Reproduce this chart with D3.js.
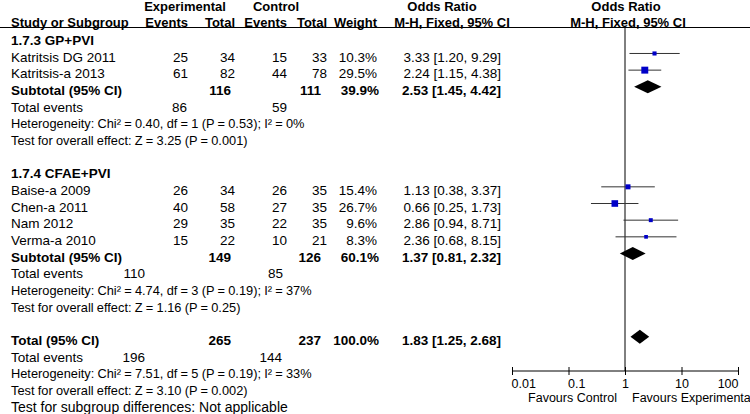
<!DOCTYPE html>
<html>
<head>
<meta charset="utf-8">
<script src="https://cdn.jsdelivr.net/npm/d3@7"></script>
<style>
  body { margin: 0; background: #fff; }
  svg { display: block; font-family: 'Liberation Sans', Arial, sans-serif; font-size: 13.5px; }
  .b { font-weight: bold; }
  .hdr { font-size: 13px; }
  .stat { font-size: 12.8px; word-spacing: -0.3px; }
  .sg { font-size: 14px; }
  .ax { font-size: 12.5px; }
</style>
</head>
<body>
<div id="chart"></div>
<script>
// ---- Data ----
const groupNames = ['1.7.3 GP+PVI', '1.7.4 CFAE+PVI']
const studies = ['Katritsis DG 2011', 'Katritsis-a 2013', 'Baise-a 2009', 'Chen-a 2011', 'Nam 2012', 'Verma-a 2010']
const studyGroup = [0, 0, 1, 1, 1, 1]
const expEvents = [25, 61, 26, 40, 29, 15]
const expTotal = [34, 82, 34, 58, 35, 22]
const ctlEvents = [15, 44, 26, 27, 22, 10]
const ctlTotal = [33, 78, 35, 35, 35, 21]
const weights = [10.3, 29.5, 15.4, 26.7, 9.6, 8.3]
const orEst = [3.33, 2.24, 1.13, 0.66, 2.86, 2.36]
const orLow = [1.20, 1.15, 0.38, 0.25, 0.94, 0.68]
const orHigh = [9.29, 4.38, 3.37, 1.73, 8.71, 8.15]

// pooled: subtotal group 1, subtotal group 2, overall total
const pooledLabels = ['Subtotal (95% CI)', 'Subtotal (95% CI)', 'Total (95% CI)']
const pooledExpTotal = [116, 149, 265]
const pooledCtlTotal = [111, 126, 237]
const pooledWeight = [39.9, 60.1, 100.0]
const pooledOR = [2.53, 1.37, 1.83]
const pooledLow = [1.45, 0.81, 1.25]
const pooledHigh = [4.42, 2.32, 2.68]
const pooledExpEvents = [86, 110, 196]
const pooledCtlEvents = [59, 85, 144]
const heterogeneity = [
  'Heterogeneity: Chi² = 0.40, df = 1 (P = 0.53); I² = 0%',
  'Heterogeneity: Chi² = 4.74, df = 3 (P = 0.19); I² = 37%',
  'Heterogeneity: Chi² = 7.51, df = 5 (P = 0.19); I² = 33%'
]
const overallEffect = [
  'Test for overall effect: Z = 3.25 (P = 0.001)',
  'Test for overall effect: Z = 1.16 (P = 0.25)',
  'Test for overall effect: Z = 3.10 (P = 0.002)'
]
const subgroupTest = 'Test for subgroup differences: Not applicable'
const axisTicks = [0.01, 0.1, 1, 10, 100]
const favours = ['Favours Control', 'Favours Experimental']

// ---- Set up ----
const width = 750
const height = 414

const svg = d3.select('#chart').append('svg')
  .attr('width', width)
  .attr('height', height)

const x = d3.scaleLog().domain([0.01, 100]).range([512, 738])
// text row centres; marks sit a little above the text centre
const rowY = d3.scaleLinear().domain([0, 1]).range([40.3, 56.97])
const markY = i => rowY(i) - 3.5
const sq = d3.scaleSqrt().domain([0, 30]).range([0, 7])

// right edges of the table columns
const col = { expEv: 188, expTot: 235, ctlEv: 287, ctlTot: 327, weight: 377, or: 501 }
// total-events columns differ a bit per block in the reference
const totEvX = [[187, 287], [145, 283], [145, 282]]

const fmt2 = d3.format('.2f')
const orText = (e, l, h) => fmt2(e) + ' [' + fmt2(l) + ', ' + fmt2(h) + ']'

function txt (row, xPos, s, anchor, cls) {
  return svg.append('text')
    .attr('x', xPos)
    .attr('y', typeof row === 'number' ? rowY(row) : row.y)
    .attr('dy', '0.35em')
    .attr('text-anchor', anchor || 'start')
    .attr('class', cls || null)
    .attr('fill', '#000')
    .text(s)
}

// ---- Header ----
txt({ y: 6 }, 185, 'Experimental', 'middle', 'b hdr')
txt({ y: 6 }, 276, 'Control', 'middle', 'b hdr')
txt({ y: 6 }, 442, 'Odds Ratio', 'middle', 'b hdr')
txt({ y: 6 }, 626, 'Odds Ratio', 'middle', 'b hdr')
txt({ y: 22 }, 11, 'Study or Subgroup', 'start', 'b hdr')
txt({ y: 22 }, col.expEv, 'Events', 'end', 'b hdr')
txt({ y: 22 }, col.expTot, 'Total', 'end', 'b hdr')
txt({ y: 22 }, col.ctlEv, 'Events', 'end', 'b hdr')
txt({ y: 22 }, col.ctlTot, 'Total', 'end', 'b hdr')
txt({ y: 22 }, col.weight, 'Weight', 'end', 'b hdr')
txt({ y: 22 }, 452, 'M-H, Fixed, 95% CI', 'middle', 'b hdr')
txt({ y: 22 }, 628, 'M-H, Fixed, 95% CI', 'middle', 'b hdr')

svg.append('line')
  .attr('x1', 0).attr('x2', width)
  .attr('y1', 27.5).attr('y2', 27.5)
  .attr('stroke', '#000').attr('stroke-width', 1)

// ---- Rows ----
const studyRows = []
const pooledRows = []
let r = 0
groupNames.forEach((g, gi) => {
  txt(r, 11, g, 'start', 'b')
  r++
  studies.forEach((s, i) => {
    if (studyGroup[i] !== gi) return
    studyRows.push({ i: i, row: r })
    txt(r, 11, s)
    txt(r, col.expEv, expEvents[i], 'end')
    txt(r, col.expTot, expTotal[i], 'end')
    txt(r, col.ctlEv, ctlEvents[i], 'end')
    txt(r, col.ctlTot, ctlTotal[i], 'end')
    txt(r, col.weight, weights[i].toFixed(1) + '%', 'end')
    txt(r, col.or, orText(orEst[i], orLow[i], orHigh[i]), 'end')
    r++
  })
  pooledRows.push({ i: gi, row: r })
  r += 5
})
pooledRows.push({ i: 2, row: r })

pooledRows.forEach(p => {
  const k = p.i
  const row = p.row
  txt(row, 11, pooledLabels[k], 'start', 'b')
  txt(row, col.expTot - 4, pooledExpTotal[k], 'end', 'b')
  txt(row, col.ctlTot - 6, pooledCtlTotal[k], 'end', 'b')
  txt(row, col.weight + 2, pooledWeight[k].toFixed(1) + '%', 'end', 'b')
  txt(row, col.or, orText(pooledOR[k], pooledLow[k], pooledHigh[k]), 'end', 'b')
  txt(row + 1, 11, 'Total events')
  txt(row + 1, totEvX[k][0], pooledExpEvents[k], 'end')
  txt(row + 1, totEvX[k][1], pooledCtlEvents[k], 'end')
  txt(row + 2, 11, heterogeneity[k], 'start', 'stat')
  txt(row + 3, 11, overallEffect[k], 'start', 'stat')
  if (k === 2) txt(row + 4, 11, subgroupTest, 'start', 'sg')
})

// ---- Forest plot ----
const plot = svg.append('g')

// line of no effect
plot.append('line')
  .attr('x1', x(1)).attr('x2', x(1))
  .attr('y1', 27.5).attr('y2', 371)
  .attr('stroke', '#000')

// CI lines
plot.selectAll('.ci')
  .data(studyRows)
  .enter().append('line')
  .attr('class', 'ci')
  .attr('x1', d => x(orLow[d.i]))
  .attr('x2', d => x(orHigh[d.i]))
  .attr('y1', d => markY(d.row))
  .attr('y2', d => markY(d.row))
  .attr('stroke', '#333')
  .attr('stroke-width', 1)

// squares
plot.selectAll('.sq')
  .data(studyRows)
  .enter().append('rect')
  .attr('class', 'sq')
  .attr('x', d => x(orEst[d.i]) - sq(weights[d.i]) / 2)
  .attr('y', d => markY(d.row) - sq(weights[d.i]) / 2)
  .attr('width', d => sq(weights[d.i]))
  .attr('height', d => sq(weights[d.i]))
  .attr('fill', '#0000c8')

// diamonds
plot.selectAll('.dia')
  .data(pooledRows)
  .enter().append('path')
  .attr('class', 'dia')
  .attr('d', d => {
    const y = markY(d.row)
    const hh = d.i === 2 ? 7 : 6.5
    return 'M' + x(pooledLow[d.i]) + ',' + y +
      'L' + x(pooledOR[d.i]) + ',' + (y - hh) +
      'L' + x(pooledHigh[d.i]) + ',' + y +
      'L' + x(pooledOR[d.i]) + ',' + (y + hh) + 'Z'
  })
  .attr('fill', '#000')

// axis
const xAxis = d3.axisBottom(x)
  .tickValues(axisTicks)
  .tickFormat(d => String(d))
  .tickSize(4)
  .tickPadding(4)

const ax = plot.append('g')
  .attr('transform', 'translate(0,371)')
  .call(xAxis)
ax.select('.domain').attr('d', 'M' + x(0.01) + ',0H' + x(100)).attr('stroke', '#000')
ax.selectAll('.tick line').attr('y1', -4).attr('y2', 4).attr('stroke', '#000')
ax.selectAll('.tick text')
  .attr('class', 'ax')
  .attr('fill', '#000')
  // low labels start at their tick and the top one ends at it, as in RevMan output
  .attr('text-anchor', d => d === 0.01 || d === 0.1 ? 'start' : d === 100 ? 'end' : 'middle')
  .attr('x', d => d === 0.01 || d === 0.1 ? -1 : 0)
ax.attr('font-size', null).attr('font-family', null)

txt({ y: 398 }, x(1) - 8, favours[0], 'end', 'ax')
txt({ y: 398 }, x(1) + 7, favours[1], 'start', 'ax')
</script>
</body>
</html>
